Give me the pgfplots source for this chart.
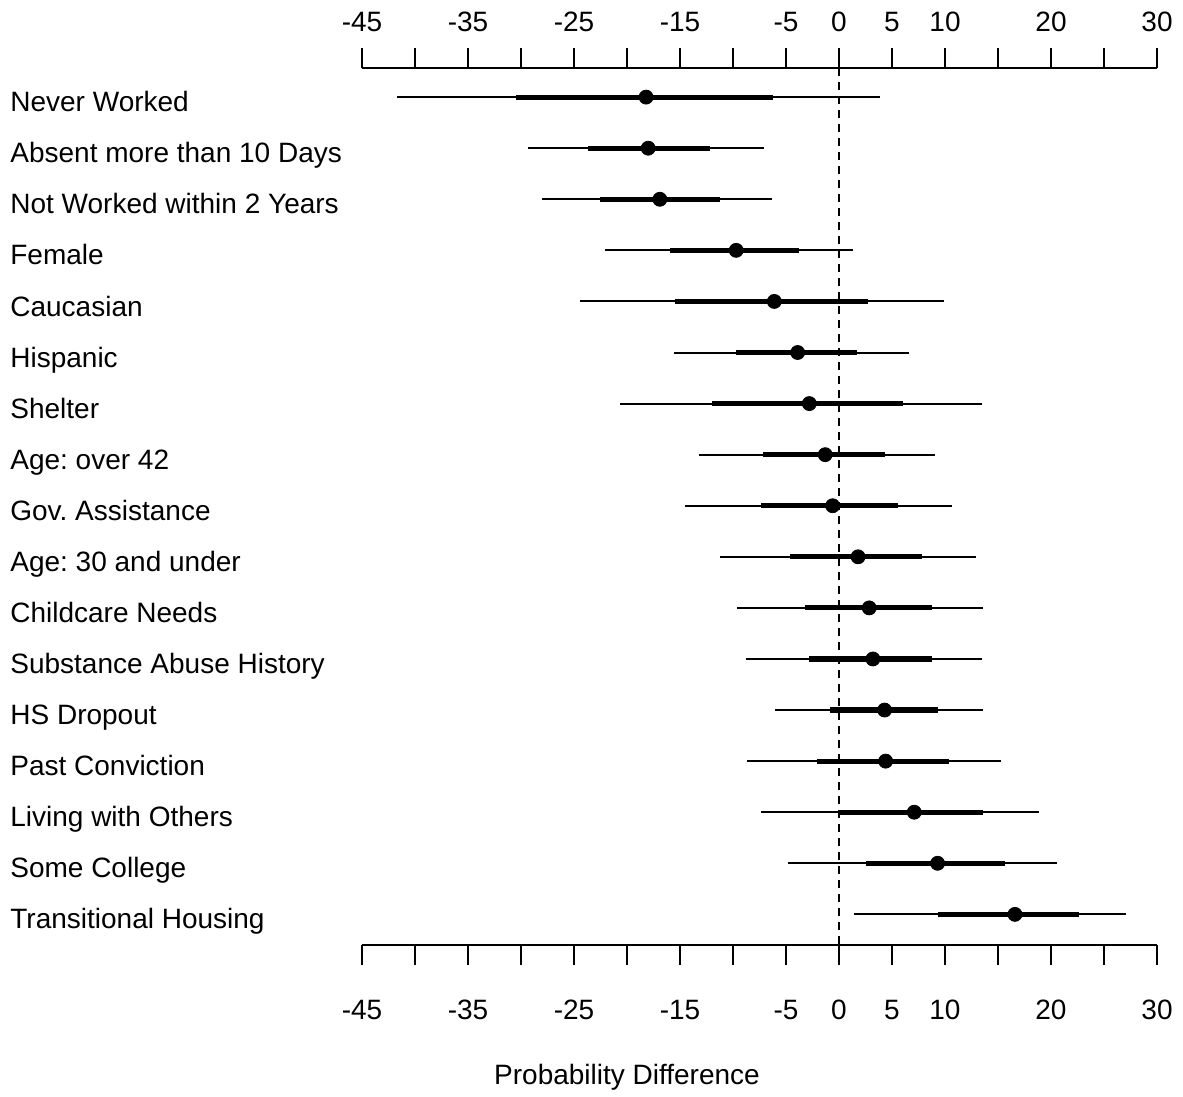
\documentclass[border=0pt]{standalone}
\usepackage{fontspec}
\setmainfont{Liberation Sans}
\usepackage{pgfplots}
\usepackage{pgfplotstable}
\pgfplotsset{compat=1.18}
\pgfplotstableread{
row est lo1 hi1 lo2 hi2
1 -18.2 -41.7 3.9 -30.5 -6.25
2 -18.0 -29.3 -7.1 -23.65 -12.2
3 -16.9 -28.05 -6.35 -22.5 -11.2
4 -9.7 -22.1 1.3 -15.9 -3.75
5 -6.1 -24.4 9.9 -15.5 2.7
6 -3.9 -15.6 6.6 -9.75 1.7
7 -2.8 -20.7 13.5 -11.95 6.0
8 -1.3 -13.2 9.05 -7.2 4.3
9 -0.6 -14.5 10.7 -7.4 5.6
10 1.8 -11.2 12.9 -4.6 7.8
11 2.85 -9.6 13.6 -3.2 8.75
12 3.2 -8.8 13.5 -2.8 8.75
13 4.3 -6.0 13.6 -0.85 9.3
14 4.4 -8.65 15.25 -2.1 10.4
15 7.1 -7.35 18.9 0.0 13.6
16 9.3 -4.8 20.6 2.5 15.7
17 16.6 1.45 27.1 9.3 22.6
}\datatable
\pgfplotsset{
  common/.style={
    scale only axis, width=397.5pt, height=438.5pt,
    xmin=-45, xmax=30, ymin=0.43, ymax=17.6, y dir=reverse,
    xtick={-45,-40,...,30},
    xticklabels={-45,,-35,,-25,,-15,,-5,0,5,10,,20,,30},
    tick align=outside, major tick length=10pt,
    x axis line style={-, line width=0.9pt},
    every tick/.style={black, line width=0.9pt},
    tick label style={font=\fontsize{14}{16}\selectfont},
  }
}
\begin{document}
\frenchspacing
\begin{tikzpicture}
\begin{axis}[common,
  axis x line*=bottom, axis y line*=left,
  y axis line style={draw=none},
  ytick={1,...,17},
  yticklabels={Never Worked,Absent more than 10 Days,Not Worked within 2 Years,Female,Caucasian,Hispanic,Shelter,Age: over 42,Gov. Assistance,Age: 30 and under,Childcare Needs,Substance Abuse History,HS Dropout,Past Conviction,Living with Others,Some College,Transitional Housing},
  ytick style={draw=none},
  yticklabel style={anchor=base west, inner sep=0pt, xshift=-166pt, yshift=-7.3pt},
  xticklabel style={yshift=-14pt},
  clip=false,
]
\draw[dashed, line width=0.9pt, dash pattern=on 4pt off 3pt] (axis cs:0,0.43) -- (axis cs:0,17.6);
\addplot[draw=none, mark=none, error bars/.cd, x dir=both, x explicit, error mark=none,
  error bar style={line width=1pt, black}]
  table[x=est, y=row, x error plus expr=\thisrow{hi1}-\thisrow{est}, x error minus expr=\thisrow{est}-\thisrow{lo1}] {\datatable};
\addplot[draw=none, mark=none, error bars/.cd, x dir=both, x explicit, error mark=none,
  error bar style={line width=2.6pt, black}]
  table[x=est, y=row, x error plus expr=\thisrow{hi2}-\thisrow{est}, x error minus expr=\thisrow{est}-\thisrow{lo2}] {\datatable};
\addplot[only marks, mark=*, mark size=3.5pt, black]
  table[x=est, y=row] {\datatable};
\end{axis}
\begin{axis}[common,
  axis x line*=top, axis y line=none,
  ytick=\empty,
  xticklabel style={yshift=4.5pt},
]
\end{axis}
\node[font=\fontsize{14}{16}\selectfont] at (132.5pt,-66pt) {Probability Difference};
\pgfresetboundingbox
\path[use as bounding box] (-181pt,-76pt) rectangle (410.5pt,472.5pt);
\end{tikzpicture}
\end{document}
